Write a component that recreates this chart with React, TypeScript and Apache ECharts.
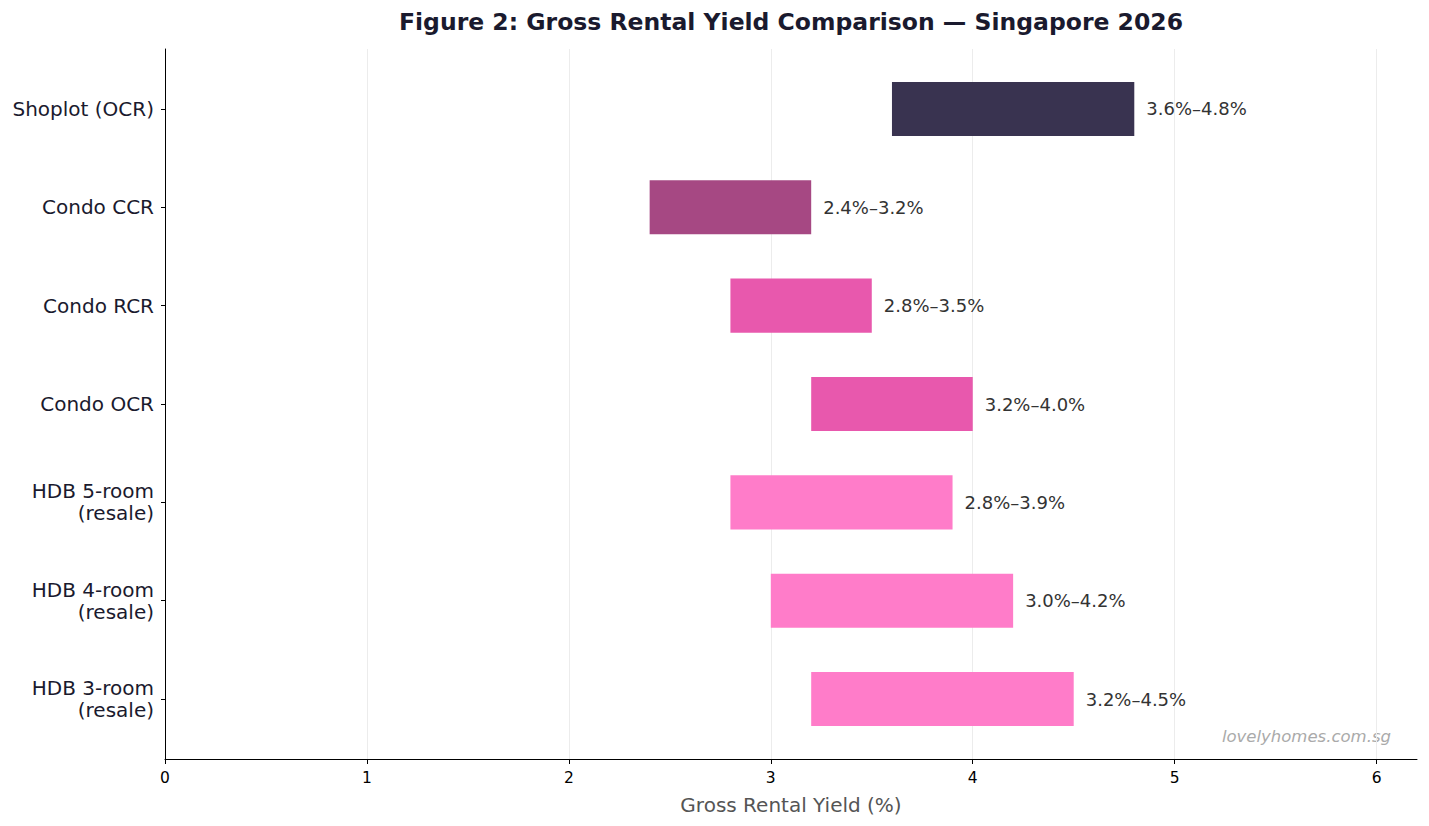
import React, { useEffect, useRef } from "react";
import * as echarts from "echarts";

// Property types, listed top to bottom
const categories = [
  "Shoplot (OCR)",
  "Condo CCR",
  "Condo RCR",
  "Condo OCR",
  "HDB 5-room\n(resale)",
  "HDB 4-room\n(resale)",
  "HDB 3-room\n(resale)",
];
// Gross rental yield range (%) per property type
const yieldLow = [3.6, 2.4, 2.8, 3.2, 2.8, 3.0, 3.2];
const yieldHigh = [4.8, 3.2, 3.5, 4.0, 3.9, 4.2, 4.5];
const barColors = ["#393350", "#a64883", "#e858ad", "#e858ad", "#ff7cc9", "#ff7cc9", "#ff7cc9"];
const xTicks = [0, 1, 2, 3, 4, 5, 6];

const FONT = "DejaVu Sans";

export default function App() {
  const ref = useRef<HTMLDivElement>(null);

  useEffect(() => {
    if (!ref.current) return;
    const chart = echarts.init(ref.current, undefined, { renderer: "svg" });
    const data = categories.map((_, i) => [i, yieldLow[i], yieldHigh[i]]);
    const fmt = (v: number) => v.toFixed(1) + "%";

    chart.setOption({
      animation: false,
      backgroundColor: "#ffffff",
      textStyle: { fontFamily: FONT },
      grid: { left: 165, right: 12, top: 49, bottom: 67, containLabel: false },
      xAxis: {
        type: "value",
        min: 0,
        max: 6.2,
        interval: 1,
        axisLine: { show: true, onZero: false, lineStyle: { color: "#000", width: 1 } },
        axisTick: { show: true, length: 5, lineStyle: { color: "#000" }, customValues: xTicks },
        axisLabel: {
          color: "#000",
          fontSize: 15.5,
          fontFamily: FONT,
          margin: 11,
          customValues: xTicks,
          formatter: (v: number) => String(v),
        },
        splitLine: { show: true, lineStyle: { color: "#ececec", width: 1 } },
        name: "Gross Rental Yield (%)",
        nameLocation: "middle",
        nameGap: 36,
        nameTextStyle: { color: "#555555", fontSize: 20, fontFamily: FONT },
      },
      yAxis: {
        type: "value",
        min: -0.61,
        max: 6.61,
        inverse: true,
        axisLine: { show: true, onZero: false, lineStyle: { color: "#000", width: 1 } },
        axisTick: {
          show: true,
          length: 4,
          lineStyle: { color: "#000" },
          customValues: categories.map((_, i) => i),
        },
        axisLabel: {
          color: "#1a1a2e",
          fontSize: 20,
          lineHeight: 22,
          fontFamily: FONT,
          margin: 11,
          align: "right",
          customValues: categories.map((_, i) => i),
          formatter: (v: number) => categories[Math.round(v)] ?? "",
        },
        splitLine: { show: false },
      },
      series: [
        {
          type: "custom",
          data,
          encode: { x: [1, 2], y: 0 },
          renderItem: (params: any, api: any) => {
            const idx = api.value(0);
            const lo = api.value(1);
            const hi = api.value(2);
            const start = api.coord([lo, idx]);
            const end = api.coord([hi, idx]);
            const h = api.size([0, 0.55])[1];
            return {
              type: "group",
              children: [
                {
                  type: "rect",
                  shape: { x: start[0], y: start[1] - h / 2, width: end[0] - start[0], height: h },
                  style: { fill: barColors[params.dataIndex] },
                },
                {
                  type: "text",
                  x: end[0] + 12,
                  y: end[1],
                  style: {
                    text: `${fmt(lo)}–${fmt(hi)}`,
                    fill: "#333333",
                    fontSize: 18,
                    fontFamily: FONT,
                    textAlign: "left",
                    textVerticalAlign: "middle",
                  },
                },
              ],
            };
          },
        },
      ],
      graphic: [
        {
          type: "text",
          x: 791,
          y: 22,
          style: {
            text: "Figure 2: Gross Rental Yield Comparison — Singapore 2026",
            fill: "#1a1a2e",
            fontSize: 23.5,
            fontWeight: "bold",
            fontFamily: FONT,
            textAlign: "center",
            textVerticalAlign: "middle",
          },
        },
        {
          type: "text",
          x: 1391,
          y: 736,
          style: {
            text: "lovelyhomes.com.sg",
            fill: "#aaaaaa",
            fontSize: 16.5,
            fontStyle: "italic",
            fontFamily: FONT,
            textAlign: "right",
            textVerticalAlign: "middle",
          },
        },
      ],
    });

    return () => chart.dispose();
  }, []);

  return <div ref={ref} style={{ width: 1429, height: 826, margin: -8 }} />;
}
